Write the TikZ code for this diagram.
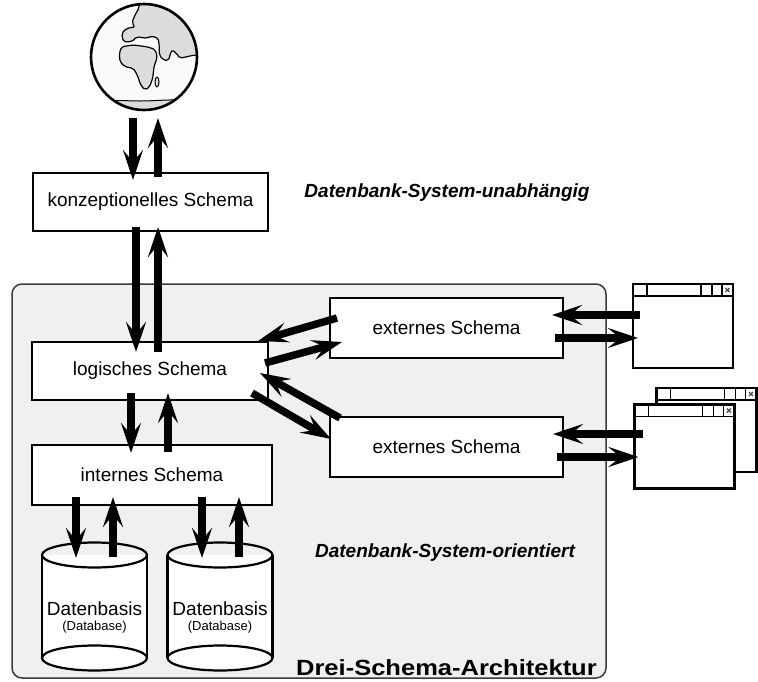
\documentclass[tikz,border=0pt]{standalone}
\usepackage{fontspec}
\usepackage{graphicx}
\setmainfont{Liberation Sans}
\usetikzlibrary{arrows.meta}

\definecolor{panelfill}{HTML}{F0F0F0}
\definecolor{panelline}{HTML}{3A3A3A}
\definecolor{landgray}{HTML}{DCDCDC}
\definecolor{seawhite}{HTML}{FAFAFA}

% title bar of a small application window: bar line, separators, close mark
\newcommand\wintitlebar[1]{%
  \draw[barline] ([yshift=-12pt]#1.north west) -- ([yshift=-12pt]#1.north east);
  \foreach \dx in {14,68,79,89}
    \draw[barline] ([xshift=\dx pt]#1.north west) -- ([xshift=\dx pt,yshift=-12pt]#1.north west);
  \draw[closemark] ([xshift=-7.5pt,yshift=-4pt]#1.north east) -- ([xshift=-3.5pt,yshift=-8pt]#1.north east);
  \draw[closemark] ([xshift=-7.5pt,yshift=-8pt]#1.north east) -- ([xshift=-3.5pt,yshift=-4pt]#1.north east);
}

\begin{document}
\begin{tikzpicture}[x=1pt,y=-1pt,
  schemabox/.style={draw=black, line width=2.2pt, fill=white, rectangle,
    inner sep=0pt, outer sep=0pt, font=\fontsize{19}{22}\selectfont},
  flow/.style={line width=7.5pt, -{Stealth[length=30pt,width=20pt,inset=12pt]}},
  winbox/.style={draw=black, line width=2.4pt, fill=white, rectangle,
    minimum width=100pt, minimum height=84pt, inner sep=0pt, outer sep=0pt},
  barline/.style={line width=1.4pt},
  closemark/.style={line width=1.3pt, draw=black!70},
  cylline/.style={line width=2.2pt},
  areanote/.style={font=\fontsize{19}{22}\selectfont\bfseries\itshape},
  dbmain/.style={inner sep=0pt, font=\fontsize{19}{22}\selectfont},
  dbsub/.style={inner sep=0pt, font=\fontsize{13}{15}\selectfont},
]
\useasboundingbox (0,0) rectangle (758,681);

% system area
\node[draw=panelline, line width=1.5pt, fill=panelfill, rounded corners=10pt,
      minimum width=594pt, minimum height=394pt, inner sep=0pt, outer sep=0pt]
      (system) at (309,481) {};

% globe
\node[circle, fill=seawhite, minimum size=106pt, inner sep=0pt, outer sep=0pt] (globe) at (144,57) {};
\begin{scope}
  \clip (144,57) circle[radius=53pt];
  % Eurasia
  \draw[fill=landgray, line width=1.2pt, rounded corners=2pt]
    (140,-10) -- (139,8) -- (134,17) -- (132,23) -- (135,27)
    -- (126.7,28.3) -- (121.7,33.3) -- (123.3,41.7) -- (131.7,41.7)
    -- (136.7,36.7) -- (146.7,38.3) -- (151.7,36) -- (158.3,38.3)
    -- (159.3,46.7) -- (159.3,55) -- (163.3,60) -- (168.3,60.7)
    -- (171.7,50) -- (176,52.7) -- (180,58.3) -- (186.7,56.7)
    -- (195,55) -- (215,55) -- (215,-10) -- cycle;
  % Africa
  \draw[fill=landgray, line width=1.2pt, rounded corners=2pt]
    (119.3,53.3) -- (121.7,46.7) -- (133.3,45) -- (146.7,46.7) -- (155,49.3)
    -- (157.3,56.7) -- (154,66.7) -- (152.7,78.3) -- (149.3,87.3)
    -- (145,90) -- (140.7,85) -- (137.3,75) -- (133.3,68.3) -- (125,66.7)
    -- (120,61.7) -- cycle;
  % Madagascar
  \draw[fill=landgray, line width=1pt] (157,82) ellipse[x radius=2pt, y radius=5pt];
  % Antarctica
  \draw[fill=landgray, line width=1pt]
    (85,103) .. controls (110,99) and (125,101) .. (140,101)
    .. controls (160,101) and (175,98) .. (205,102) -- (205,120) -- (85,120) -- cycle;
\end{scope}
\draw[line width=2.6pt] (globe.center) circle[radius=53pt];

% schema boxes
\node[schemabox, minimum width=235pt, minimum height=58pt] (konz) at (150.5,202) {konzeptionelles Schema};
\node[schemabox, minimum width=236pt, minimum height=58pt] (logisch) at (150,371) {logisches Schema};
\node[schemabox, minimum width=240pt, minimum height=60pt] (intern) at (152,475) {internes Schema};
\node[schemabox, minimum width=233pt, minimum height=60pt] (ext1) at (446.5,328) {externes Schema};
\node[schemabox, minimum width=233pt, minimum height=60pt] (ext2) at (446.5,447) {externes Schema};

% databases
\foreach \cx/\nm in {94.5/db1, 220/db2} {
  \fill[white] (\cx-52.5,555) rectangle (\cx+52.5,658);
  \fill[white] (\cx,658) ellipse[x radius=52.5pt, y radius=12.5pt];
  \draw[cylline] (\cx-52.5,555) -- (\cx-52.5,658);
  \draw[cylline] (\cx+52.5,555) -- (\cx+52.5,658);
  \draw[cylline] (\cx,555) ellipse[x radius=52.5pt, y radius=12.5pt];
  \draw[cylline] (\cx,658) ellipse[x radius=52.5pt, y radius=12.5pt];
  \node[inner sep=0pt, outer sep=0pt, minimum width=105pt, minimum height=103pt] (\nm) at (\cx,606.5) {};
  \node[dbmain] (\nm name) at (\cx,609) {Datenbasis};
  \node[dbsub] (\nm note) at (\cx,627) {(Database)};
}

% application windows
\node[winbox] (win1) at (683,326) {};
\wintitlebar{win1}
\node[winbox] (win2back) at (706.5,430) {};
\wintitlebar{win2back}
\node[winbox] (win2) at (684.5,446.5) {};
\wintitlebar{win2}

% area captions
\node[areanote] (indep) at (447,193) {Datenbank-System-unabhängig};
\node[areanote] (orient) at (445,553) {Datenbank-System-orientiert};
\node[anchor=base east, inner sep=0pt, font=\fontsize{22}{24}\selectfont\bfseries] (title) at (597,675)
  {\scalebox{1.16}[1]{Drei-Schema-Architektur}};

% mappings between the levels
\draw[flow] ([xshift=-11pt,yshift=-8pt]globe.south) -- ([xshift=-17.5pt,yshift=-7pt]konz.north);
\draw[flow] ([xshift=7.5pt,yshift=-4pt]konz.north) -- ([xshift=14pt,yshift=-61pt]globe.center);
\draw[flow] ([xshift=-14.5pt,yshift=4pt]konz.south) -- ([xshift=-14pt,yshift=-10pt]logisch.north);
\draw[flow] ([xshift=8pt,yshift=-10pt]logisch.north) -- ([xshift=7.5pt,yshift=4pt]konz.south);
\draw[flow] ([xshift=-19pt,yshift=7pt]logisch.south) -- ([xshift=-21pt,yshift=-8pt]intern.north);
\draw[flow] ([xshift=16pt,yshift=-7pt]intern.north) -- ([xshift=18pt,yshift=7pt]logisch.south);
\draw[flow] ([xshift=-76pt,yshift=8pt]intern.south) -- ([xshift=-18.5pt,yshift=-3pt]db1.north);
\draw[flow] ([xshift=18.5pt,yshift=-2pt]db1.north) -- ([xshift=-39pt,yshift=8pt]intern.south);
\draw[flow] ([xshift=50pt,yshift=8pt]intern.south) -- ([xshift=-18pt,yshift=-3pt]db2.north);
\draw[flow] ([xshift=19pt,yshift=-2pt]db2.north) -- ([xshift=87pt,yshift=8pt]intern.south);
\draw[flow] ([xshift=7pt,yshift=10pt]ext1.west) -- ([xshift=-10pt,yshift=30pt]logisch.east);
\draw[flow] ([xshift=-3pt,yshift=8pt]logisch.east) -- ([xshift=12pt,yshift=-14pt]ext1.west);
\draw[flow] ([xshift=10pt,yshift=29pt]ext2.west) -- ([xshift=-8pt,yshift=-2pt]logisch.east);
\draw[flow] ([xshift=-16pt,yshift=-22pt]logisch.east) -- ([xshift=1pt,yshift=8pt]ext2.west);
\draw[flow] ([xshift=7pt,yshift=11pt]win1.west) -- ([xshift=-11pt,yshift=13pt]ext1.east);
\draw[flow] ([xshift=-8pt,yshift=-10pt]ext1.east) -- ([xshift=5pt,yshift=-12pt]win1.west);
\draw[flow] ([xshift=8pt,yshift=12.5pt]win2.west) -- ([xshift=-10pt,yshift=13pt]ext2.east);
\draw[flow] ([xshift=-6pt,yshift=-10pt]ext2.east) -- ([xshift=4pt,yshift=-10.5pt]win2.west);
\end{tikzpicture}
\end{document}
